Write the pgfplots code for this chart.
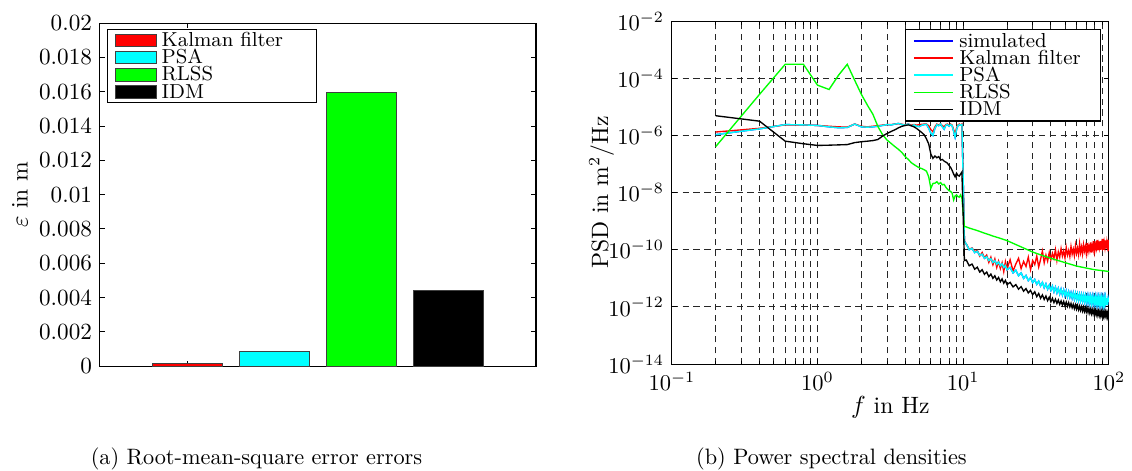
\documentclass[border=0pt]{standalone}
\usepackage{pgfplots}
\usepackage{pgfplotstable}
\pgfplotsset{compat=1.18}
\definecolor{mred}{rgb}{1,0,0}
\definecolor{mcyan}{rgb}{0,1,1}
\definecolor{mgreen}{rgb}{0,1,0}
\definecolor{mblue}{rgb}{0,0,1}

\pgfplotstableread{
f y
0.2 1.07e-6
0.4 1.70e-6
0.6 2.40e-6
0.8 2.34e-6
1.0 2.24e-6
1.2 2.0e-6
1.4 1.86e-6
1.6 1.9e-6
1.8 2.5e-6
2.0 2.0e-6
2.2 1.95e-6
2.4 2.0e-6
2.6 2.1e-6
2.8 2.24e-6
3.0 2.4e-6
3.2 2.34e-6
3.4 2.5e-6
3.6 2.63e-6
3.8 2.4e-6
4.0 2.29e-6
4.2 2.5e-6
4.4 2.19e-6
4.6 2.34e-6
4.8 2.1e-6
5.0 2.04e-6
5.2 2.29e-6
5.4 2.4e-6
5.6 2.45e-6
5.8 1.78e-6
6.0 1.2e-6
6.2 1.0e-6
6.4 1.78e-6
6.6 2.4e-6
6.8 2.19e-6
7.0 2.5e-6
7.2 2.0e-6
7.4 1.66e-6
7.6 2.29e-6
7.8 2.4e-6
8.0 2.1e-6
8.2 2.4e-6
8.4 2.19e-6
8.6 1.41e-6
8.8 8.7e-7
9.0 1.58e-6
9.2 2.19e-6
9.4 2.4e-6
9.6 2.29e-6
9.8 2.4e-6
10.0 3.2e-8
10.2 2.0e-10
10.5 1.585e-10
11.0 1.0e-10
11.5 1.12e-10
12.0 7.94e-11
12.5 8.91e-11
13.0 6.31e-11
13.5 7.08e-11
14.0 5.01e-11
14.5 5.75e-11
15.0 4.17e-11
15.5 4.90e-11
16.0 3.55e-11
16.5 4.17e-11
17.0 3.09e-11
17.5 3.72e-11
18.0 2.75e-11
18.5 3.24e-11
19.0 2.40e-11
19.5 2.82e-11
20 2.0e-11
21 2.40e-11
22 1.55e-11
23 1.91e-11
24 1.23e-11
25 1.55e-11
26 1.0e-11
27 1.26e-11
28 8.32e-12
29 1.05e-11
30 7.08e-12
31 9.12e-12
32 6.17e-12
33 7.94e-12
34 5.37e-12
35 7.24e-12
36 4.68e-12
37 6.46e-12
38 4.17e-12
39 5.75e-12
40 3.80e-12
41 5.37e-12
42 3.39e-12
43 4.90e-12
44 3.09e-12
45 4.47e-12
46 2.82e-12
47 4.17e-12
48 2.63e-12
49 3.89e-12
50 2.45e-12
51 3.63e-12
52 2.29e-12
53 3.39e-12
54 2.19e-12
55 3.16e-12
56 2.04e-12
57 3.09e-12
58 1.91e-12
59 2.95e-12
60 1.82e-12
61 2.82e-12
62 1.74e-12
63 2.69e-12
64 1.66e-12
65 2.63e-12
66 1.62e-12
67 2.51e-12
68 1.55e-12
69 2.45e-12
70 1.48e-12
71 2.40e-12
72 1.45e-12
73 2.34e-12
74 1.41e-12
75 2.29e-12
76 1.35e-12
77 2.24e-12
78 1.35e-12
79 2.19e-12
80 1.32e-12
81 2.19e-12
82 1.29e-12
83 2.14e-12
84 1.26e-12
85 2.09e-12
86 1.26e-12
87 2.09e-12
88 1.23e-12
89 2.04e-12
90 1.23e-12
91 2.04e-12
92 1.20e-12
93 2.0e-12
94 1.20e-12
95 2.0e-12
96 1.17e-12
97 2.0e-12
98 1.17e-12
99 1.95e-12
100 1.51e-12
}\psadata

\pgfplotstableread{
f y
0.2 1.32e-6
0.4 1.78e-6
0.6 2.34e-6
0.8 2.34e-6
1.0 2.24e-6
1.2 2.1e-6
1.4 2.0e-6
1.6 1.95e-6
1.8 2.5e-6
2.0 2.1e-6
2.2 2.0e-6
2.4 2.1e-6
2.6 2.2e-6
2.8 2.3e-6
3.0 2.4e-6
3.2 2.4e-6
3.4 2.5e-6
3.6 2.6e-6
3.8 2.45e-6
4.0 2.35e-6
4.2 2.5e-6
4.4 2.3e-6
4.6 2.4e-6
4.8 2.3e-6
5.0 2.4e-6
5.2 2.45e-6
5.4 2.5e-6
5.6 2.5e-6
5.8 2.2e-6
6.0 1.6e-6
6.2 1.35e-6
6.4 2.0e-6
6.6 2.5e-6
6.8 2.3e-6
7.0 2.55e-6
7.2 2.2e-6
7.4 2.0e-6
7.6 2.4e-6
7.8 2.5e-6
8.0 2.2e-6
8.2 2.5e-6
8.4 2.3e-6
8.6 1.6e-6
8.8 1.1e-6
9.0 1.8e-6
9.2 2.3e-6
9.4 2.5e-6
9.6 2.3e-6
9.8 2.5e-6
10.0 3.5e-8
10.2 2.0e-10
10.5 1.585e-10
11.0 1.05e-10
11.5 1.15e-10
12.0 8.5e-11
12.5 9.5e-11
13.0 6.0e-11
13.5 8.0e-11
14.0 5.2e-11
14.5 6.5e-11
15.0 3.6e-11
15.5 5.5e-11
16.0 3.0e-11
16.5 4.8e-11
17.0 2.4e-11
17.5 4.0e-11
18.0 2.2e-11
18.5 3.5e-11
19.0 1.7e-11
19.5 3.8e-11
20 2.1e-11
21 4.5e-11
22 1.8e-11
23 3.2e-11
24 5.0e-11
25 2.2e-11
26 3.9e-11
27 2.6e-11
28 5.5e-11
29 2.0e-11
30 4.2e-11
31 3.0e-11
32 6.0e-11
33 2.5e-11
34 4.6e-11
35 9.0e-11
36 3.5e-11
37 6.5e-11
38 4.0e-11
39 8.0e-11
40 4.5e-11
41 7.5e-11
42 5.0e-11
43 1.0e-10
44 4.2e-11
45 8.5e-11
46 5.5e-11
47 1.1e-10
48 6.0e-11
49 9.0e-11
50 5.2e-11
51 1.2e-10
52 6.5e-11
53 9.5e-11
54 5.8e-11
55 1.3e-10
56 7.0e-11
57 1.05e-10
58 6.2e-11
59 1.4e-10
60 7.5e-11
61 1.15e-10
62 6.8e-11
63 1.6e-10
64 8.0e-11
65 1.25e-10
66 7.2e-11
67 1.5e-10
68 9.0e-11
69 1.3e-10
70 7.5e-11
71 1.7e-10
72 8.5e-11
73 1.35e-10
74 9.5e-11
75 1.8e-10
76 8.0e-11
77 1.45e-10
78 1.0e-10
79 2.0e-10
80 9.0e-11
81 1.5e-10
82 1.1e-10
83 2.2e-10
84 9.5e-11
85 1.6e-10
86 1.15e-10
87 2.0e-10
88 1.0e-10
89 1.7e-10
90 1.25e-10
91 2.4e-10
92 1.0e-10
93 1.8e-10
94 1.2e-10
95 2.1e-10
96 1.1e-10
97 1.9e-10
98 1.3e-10
99 2.2e-10
100 9.0e-11
}\kalmandata

\pgfplotstableread{
f y
0.2 4.07e-7
0.4 2.75e-5
0.6 3.09e-4
0.8 3.09e-4
1.0 5.75e-5
1.2 4.07e-5
1.4 1.32e-4
1.6 3.09e-4
1.8 8.51e-5
2.0 2.75e-5
2.2 1.15e-5
2.4 5.50e-6
2.6 2.04e-6
2.8 1.05e-6
3.0 6.92e-7
3.2 5.25e-7
3.4 4.07e-7
3.6 3.24e-7
3.8 2.51e-7
4.0 1.82e-7
4.2 1.45e-7
4.4 1.12e-7
4.6 9.55e-8
4.8 8.32e-8
5.0 7.41e-8
5.2 6.92e-8
5.4 6.31e-8
5.6 5.62e-8
5.8 3.55e-8
6.0 1.41e-8
6.2 2.09e-8
6.4 2.14e-8
6.6 2.40e-8
6.8 2.0e-8
7.0 2.24e-8
7.2 1.86e-8
7.4 1.95e-8
7.6 1.55e-8
7.8 1.32e-8
8.0 1.17e-8
8.2 1.10e-8
8.4 9.55e-9
8.6 5.50e-9
8.8 7.59e-9
9.0 8.32e-9
9.2 7.24e-9
9.4 6.92e-9
9.6 8.32e-9
9.8 6.31e-9
10.0 1.91e-9
10.2 6.46e-10
10.5 6.31e-10
11 5.75e-10
12 5.01e-10
13 4.37e-10
14 3.80e-10
15 3.39e-10
16 3.02e-10
18 2.51e-10
20 2.09e-10
25 1.26e-10
30 8.32e-11
35 6.31e-11
40 5.01e-11
50 3.55e-11
60 2.69e-11
70 2.29e-11
80 2.0e-11
90 1.86e-11
100 1.74e-11
}\rlssdata

\pgfplotstableread{
f y
0.2 4.90e-6
0.4 3.16e-6
0.6 6.31e-7
0.8 5.13e-7
1.0 4.47e-7
1.2 4.57e-7
1.4 4.68e-7
1.6 4.79e-7
1.8 5.62e-7
2.0 6.03e-7
2.2 6.31e-7
2.4 6.61e-7
2.6 7.24e-7
2.8 9.55e-7
3.0 1.17e-6
3.2 1.38e-6
3.4 1.58e-6
3.6 1.86e-6
3.8 2.09e-6
4.0 2.24e-6
4.2 2.34e-6
4.4 2.19e-6
4.6 2.0e-6
4.8 1.74e-6
5.0 1.48e-6
5.2 1.26e-6
5.4 1.05e-6
5.6 7.59e-7
5.8 5.01e-7
6.0 2.24e-7
6.2 1.58e-7
6.4 1.91e-7
6.6 1.66e-7
6.8 1.82e-7
7.0 1.38e-7
7.2 1.45e-7
7.4 1.26e-7
7.6 1.17e-7
7.8 1.07e-7
8.0 8.91e-8
8.2 7.59e-8
8.4 6.03e-8
8.6 4.47e-8
8.8 3.55e-8
9.0 4.79e-8
9.2 3.98e-8
9.4 3.80e-8
9.6 4.47e-8
9.8 5.25e-8
10.0 1.58e-9
10.2 4.17e-11
10.5 4.37e-11
11.0 2.75e-11
11.5 3.16e-11
12.0 2.09e-11
12.5 2.45e-11
13.0 1.66e-11
13.5 2.0e-11
14.0 1.38e-11
14.5 1.66e-11
15.0 1.15e-11
15.5 1.41e-11
16.0 1.0e-11
16.5 1.23e-11
17.0 8.71e-12
17.5 1.07e-11
18.0 7.59e-12
18.5 9.55e-12
19.0 6.76e-12
19.5 8.51e-12
20 6.03e-12
21 7.24e-12
22 5.01e-12
23 6.03e-12
24 4.17e-12
25 5.13e-12
26 3.55e-12
27 4.37e-12
28 3.09e-12
29 3.80e-12
30 2.69e-12
31 3.39e-12
32 2.29e-12
33 2.95e-12
34 2.0e-12
35 2.63e-12
36 1.82e-12
37 2.40e-12
38 1.66e-12
39 2.19e-12
40 1.51e-12
41 2.0e-12
42 1.41e-12
43 1.86e-12
44 1.32e-12
45 1.74e-12
46 1.23e-12
47 1.62e-12
48 1.15e-12
49 1.55e-12
50 1.10e-12
51 1.48e-12
52 1.05e-12
53 1.41e-12
54 1.0e-12
55 1.32e-12
56 9.33e-13
57 1.23e-12
58 8.71e-13
59 1.17e-12
60 8.32e-13
61 1.12e-12
62 7.94e-13
63 1.07e-12
64 7.59e-13
65 1.02e-12
66 7.24e-13
67 9.77e-13
68 6.92e-13
69 9.33e-13
70 6.61e-13
71 8.91e-13
72 6.38e-13
73 8.71e-13
74 6.17e-13
75 8.32e-13
76 5.89e-13
77 8.04e-13
78 5.75e-13
79 7.76e-13
80 5.50e-13
81 7.50e-13
82 5.37e-13
83 7.24e-13
84 5.19e-13
85 7.08e-13
86 5.07e-13
87 6.92e-13
88 4.95e-13
89 6.76e-13
90 4.90e-13
91 6.68e-13
92 4.79e-13
93 6.61e-13
94 4.73e-13
95 6.46e-13
96 4.68e-13
97 6.38e-13
98 4.57e-13
99 6.31e-13
100 5.37e-13
}\idmdata

\begin{document}
\begin{tikzpicture}[font=\fontsize{10}{12}\selectfont]
\useasboundingbox (-44.4pt,-46.2pt) rectangle (458.7pt,162.7pt);

% ---------- (a) bar chart ----------
\begin{axis}[
  at={(0pt,0pt)}, anchor=south west,
  scale only axis, width=193.8pt, height=152.4pt,
  xmin=0, xmax=5, ymin=0, ymax=0.02,
  xtick={1}, xticklabels={\empty},
  scaled y ticks=false,
  ytick={0,0.002,0.004,0.006,0.008,0.01,0.012,0.014,0.016,0.018,0.02},
  yticklabels={0,0.002,0.004,0.006,0.008,0.01,0.012,0.014,0.016,0.018,0.02},
  tick align=inside, tick pos=both,
  major tick length=2.2pt,
  tick style={black, line width=0.4pt},
  axis line style={line width=0.5pt},
  tick label style={font=\fontsize{10.3}{12}\selectfont},
  ylabel={$\varepsilon$ in m},
  ylabel style={at={(axis description cs:-0.1837,0.5)}, anchor=center, font=\fontsize{10.5}{12}\selectfont},
  legend cell align=left,
  legend image code/.code={\draw[#1] (0pt,-2.7pt) rectangle (18pt,2.7pt);},
  legend style={at={(axis description cs:0.016,0.982)}, anchor=north west,
    font=\fontsize{9}{9}\selectfont, draw=black, line width=0.5pt,
    inner xsep=3.4pt, inner ysep=1pt, row sep=0pt, column sep=2pt,
    nodes={inner sep=0.3pt, text height=6.2pt, text depth=0.8pt}},
]
\addplot[ybar, bar width=0.8, bar shift=0pt, fill=mred, draw=black!75, line width=0.4pt] coordinates {(1,0.00013)};
\addlegendentry{Kalman filter\rule{11pt}{0pt}}
\addplot[ybar, bar width=0.8, bar shift=0pt, fill=mcyan, draw=black!75, line width=0.4pt] coordinates {(2,0.00084)};
\addlegendentry{PSA}
\addplot[ybar, bar width=0.8, bar shift=0pt, fill=mgreen, draw=black!75, line width=0.4pt] coordinates {(3,0.01598)};
\addlegendentry{RLSS}
\addplot[ybar, bar width=0.8, bar shift=0pt, fill=black, draw=black!75, line width=0.4pt] coordinates {(4,0.00441)};
\addlegendentry{IDM}
\end{axis}

% ---------- (b) PSD ----------
\begin{axis}[
  at={(254.2pt,0.9pt)}, anchor=south west,
  scale only axis, width=194.2pt, height=152.4pt,
  xmode=log, ymode=log,
  xmin=0.1, xmax=100, ymin=1e-14, ymax=1e-2,
  xtick={0.1,1,10,100},
  ytick={1e-14,1e-12,1e-10,1e-8,1e-6,1e-4,1e-2},
  yminorticks=false,
  tick align=inside, tick pos=both,
  major tick length=2.2pt, minor tick length=1.5pt,
  tick style={black, line width=0.4pt},
  axis line style={line width=0.5pt},
  tick label style={font=\fontsize{10}{12}\selectfont},
  xmajorgrids, xminorgrids, ymajorgrids,
  major grid style={black!85, line width=0.4pt, dash pattern=on 2.8pt off 2pt},
  minor grid style={black!85, line width=0.4pt, dash pattern=on 2.8pt off 2pt},
  xlabel={$f$ in Hz},
  xlabel style={at={(axis description cs:0.5,-0.143)}, anchor=base, font=\fontsize{10.5}{12}\selectfont},
  ylabel={PSD in m$^2$/Hz},
  ylabel style={at={(axis description cs:-0.1607,0.5)}, anchor=center, font=\fontsize{10.5}{12}\selectfont},
  legend cell align=left,
  legend image code/.code={\draw[#1, line width=0.75pt] (0pt,0pt) -- (17.5pt,0pt);},
  legend style={at={(axis description cs:0.982,0.977)}, anchor=north east,
    font=\fontsize{9}{9}\selectfont, draw=black, line width=0.5pt, fill=white,
    inner xsep=3.4pt, inner ysep=1.3pt, row sep=0pt, column sep=2pt,
    nodes={inner sep=0.3pt, text height=6.2pt, text depth=0.8pt}},
]
\addplot[mblue, line width=0.6pt] table[x=f, y=y] {\psadata};
\addlegendentry{simulated}
\addplot[mred, line width=0.6pt] table[x=f, y=y] {\kalmandata};
\addlegendentry{Kalman filter\rule{5pt}{0pt}}
\addplot[mcyan, line width=0.6pt] table[x=f, y=y] {\psadata};
\addlegendentry{PSA}
\addplot[mgreen, line width=0.6pt] table[x=f, y=y] {\rlssdata};
\addlegendentry{RLSS}
\addplot[black, line width=0.6pt] table[x=f, y=y] {\idmdata};
\addlegendentry{IDM}
\end{axis}

\node[anchor=base, font=\fontsize{9.9}{12}\selectfont] at (69.6pt,-43.7pt) {(a) Root-mean-square error errors};
\node[anchor=base, font=\fontsize{9.9}{12}\selectfont] at (325.1pt,-43.7pt) {(b) Power spectral densities};
\end{tikzpicture}
\end{document}
